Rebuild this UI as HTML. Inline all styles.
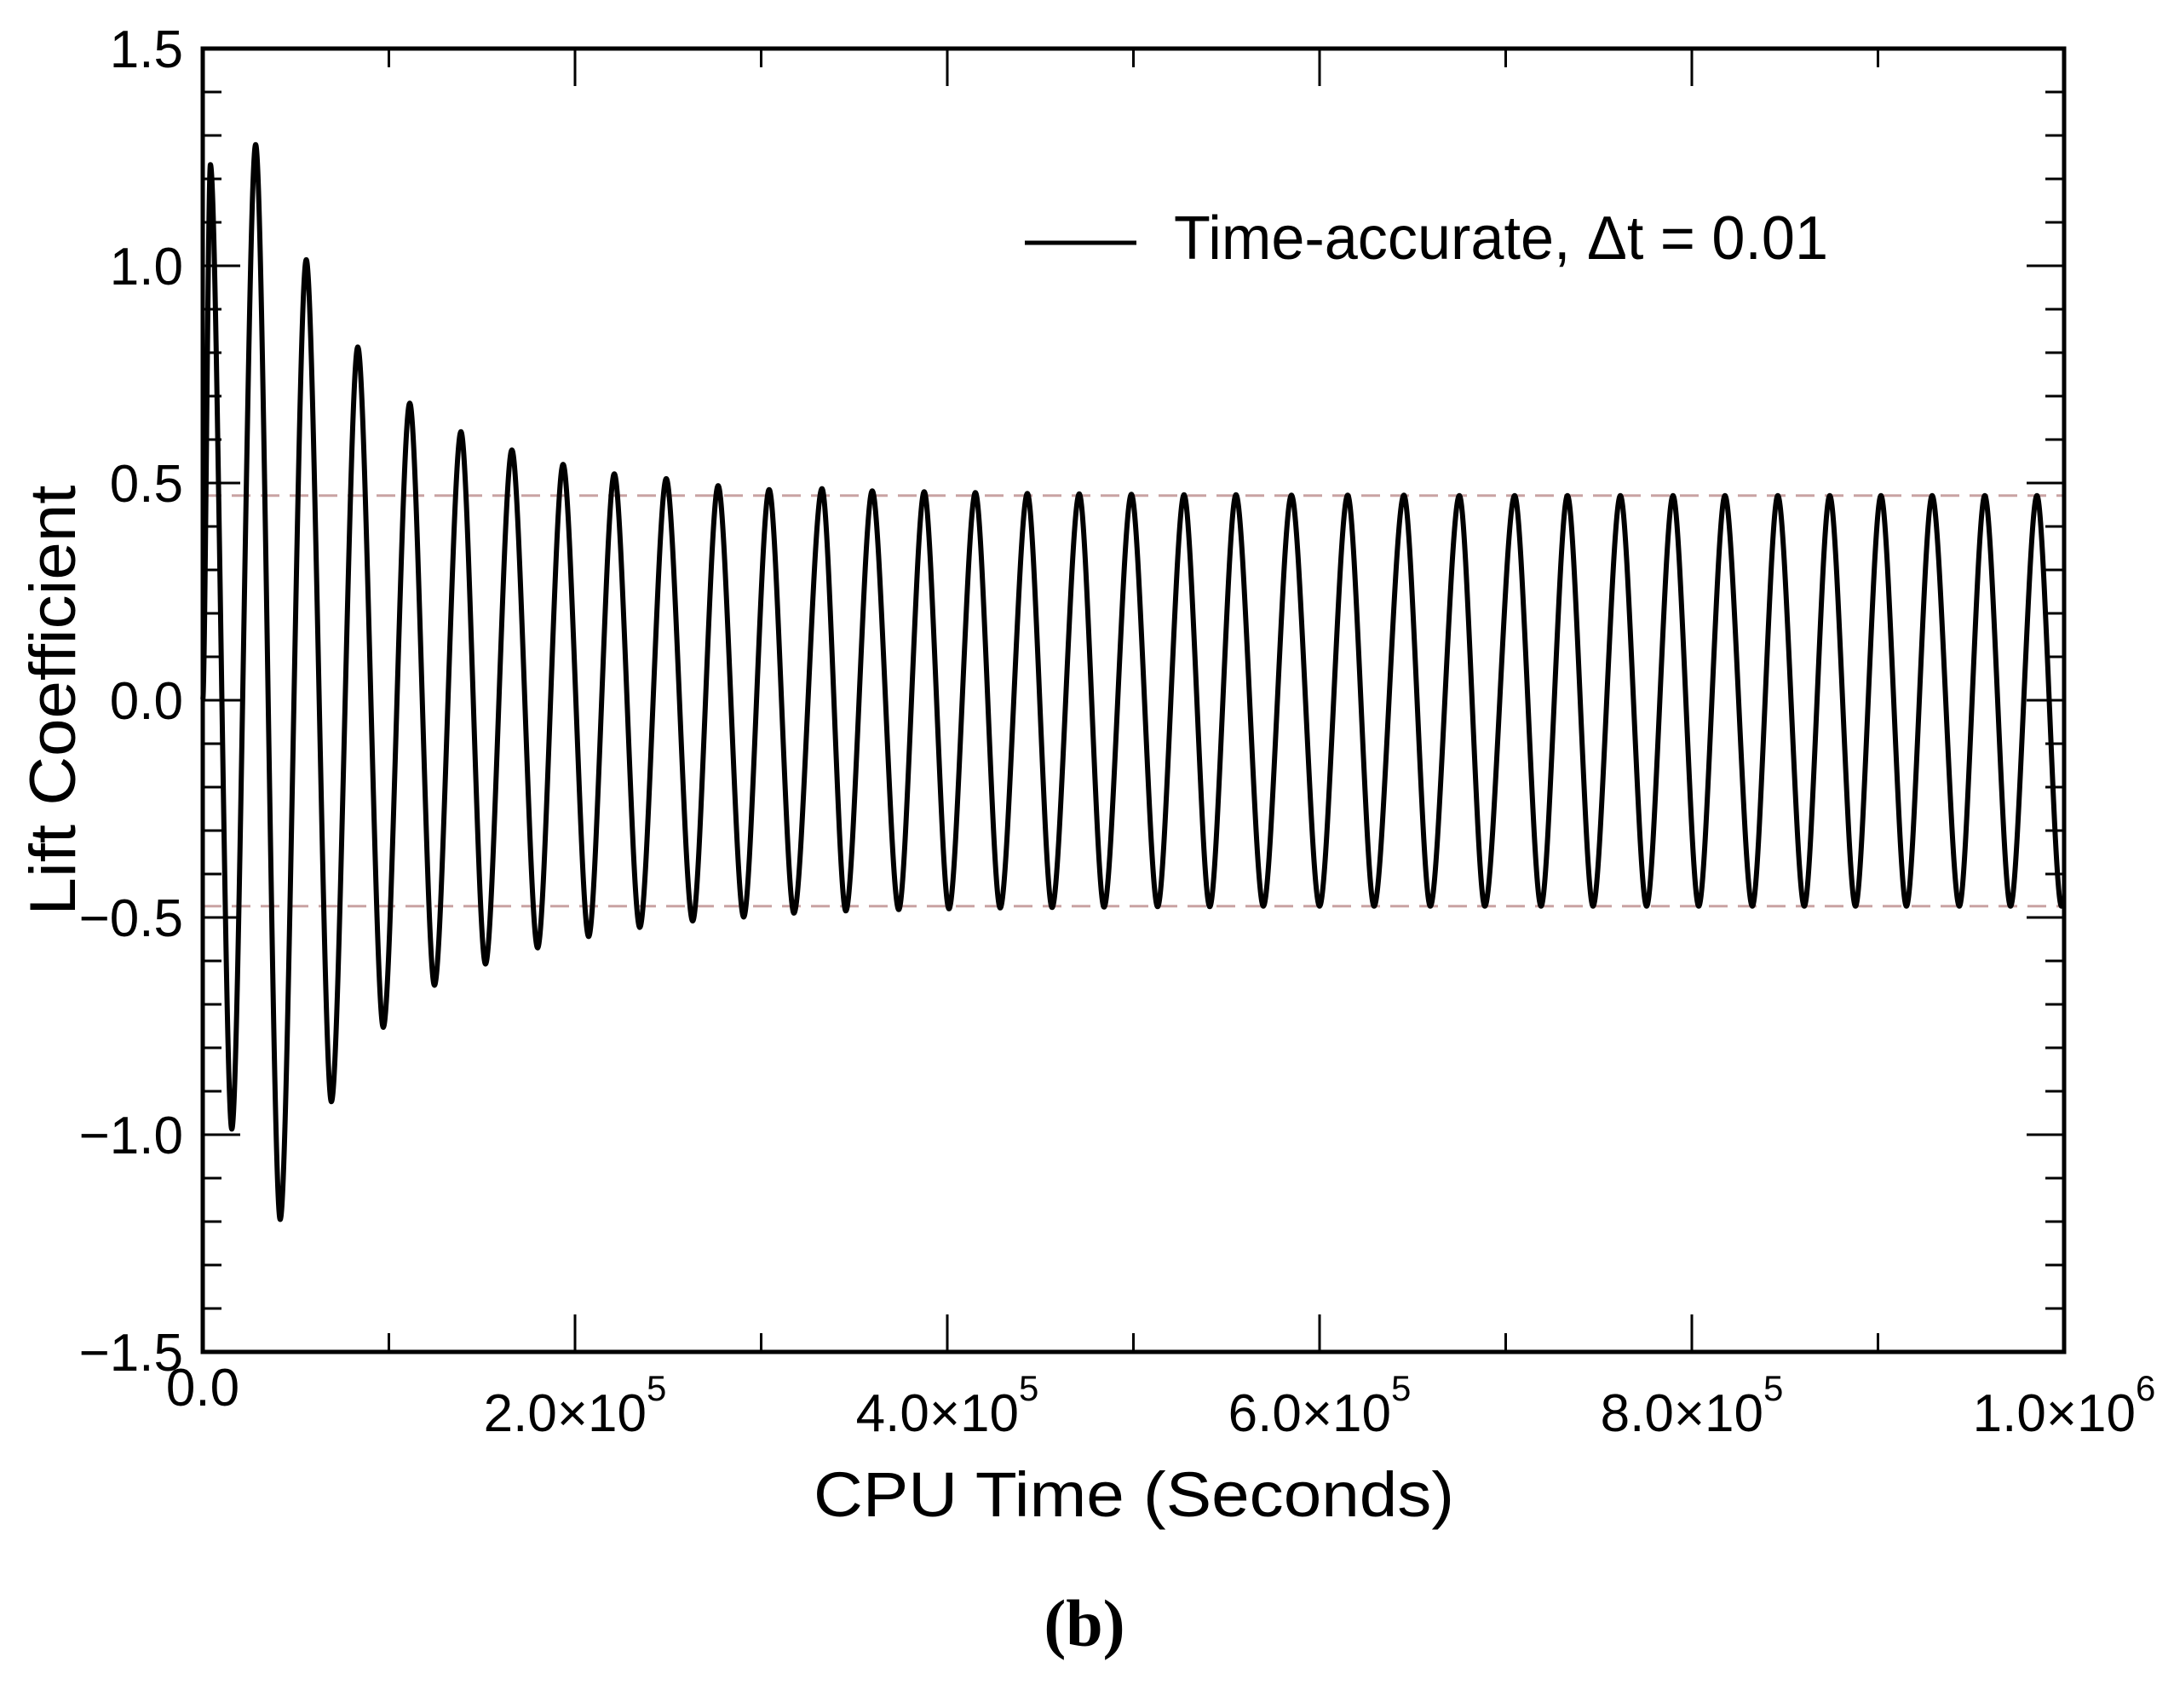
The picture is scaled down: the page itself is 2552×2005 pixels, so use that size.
<!DOCTYPE html>
<html><head><meta charset="utf-8"><style>
html,body{margin:0;padding:0;background:#fff;}
svg{display:block;}
text{font-family:"Liberation Sans",sans-serif;fill:#000;}
</style></head><body>
<svg id="chart" width="2552" height="2005" viewBox="0 0 2552 2005" xmlns="http://www.w3.org/2000/svg">
<rect x="0" y="0" width="2552" height="2005" fill="#fff"/>
<g id="grid-ref"></g>
<g id="series"></g>
<g id="axes"></g>
<g id="labels"></g>
<line x1="1203" y1="285" x2="1334" y2="285" stroke="#000" stroke-width="5"/>
<text x="1378" y="304" font-size="72" textLength="768" lengthAdjust="spacingAndGlyphs">Time-accurate, Δt = 0.01</text>
<text x="1331" y="1780" font-size="74" text-anchor="middle" textLength="752" lengthAdjust="spacingAndGlyphs">CPU Time (Seconds)</text>
<text transform="translate(88,822) rotate(-90)" font-size="76" text-anchor="middle" textLength="505" lengthAdjust="spacingAndGlyphs">Lift Coefficient</text>
<text x="1273" y="1932" font-size="78" font-weight="bold" text-anchor="middle" style="font-family:'Liberation Serif',serif">(b)</text>
</svg>
<script>
// extrema of the lift coefficient signal (time in thousands of seconds)
const extremaTimes = [0,4.1,15.6,28.4,41.6,55.6,69.1,83.3,97.0,111.2,124.5,138.7,151.9,166.1,179.9,193.6,207.3,221.1,234.8,249.0,263.2,276.9,290.6,304.3,317.6,332.7,345.5,359.7,373.9,387.6,400.9,415.1,428.4,443.0,456.3,470.9,484.2,498.9,513.0,527.2,541.0,555.1,569.8,584.9,600.0,615.1,629.3,645.3,659.5,675.1,688.8,704.8,719.0,733.2,746.9,761.6,775.7,789.9,803.7,817.8,832.5,846.2,860.4,874.1,887.9,901.6,915.3,929.1,943.7,957.4,971.2,985.4,998.6,1000];
const extremaValues = [0,1.233,-0.987,1.279,-1.195,1.014,-0.924,0.813,-0.753,0.684,-0.656,0.618,-0.607,0.576,-0.570,0.543,-0.544,0.521,-0.523,0.510,-0.508,0.494,-0.499,0.485,-0.490,0.487,-0.485,0.482,-0.482,0.480,-0.480,0.478,-0.478,0.476,-0.477,0.475,-0.476,0.474,-0.475,0.473,-0.475,0.473,-0.474,0.472,-0.474,0.472,-0.474,0.472,-0.474,0.471,-0.474,0.471,-0.474,0.471,-0.474,0.471,-0.474,0.471,-0.474,0.471,-0.474,0.471,-0.474,0.471,-0.474,0.471,-0.474,0.471,-0.474,0.471,-0.474,0.471,-0.474,-0.47];
const refLevels = [0.471,-0.474];
const yTickValues = [-1.5,-1.0,-0.5,0.0,0.5,1.0,1.5];
const yTickLabels = ["\u22121.5","\u22121.0","\u22120.5","0.0","0.5","1.0","1.5"];
const xTickValues = [0,200,400,600,800,1000];
const xTickMantissa = ["0.0","2.0\u00d710","4.0\u00d710","6.0\u00d710","8.0\u00d710","1.0\u00d710"];
const xTickExponent = ["","5","5","5","5","6"];

const L=238,R=2423,T=57,B=1587;
const xMin=0,xMax=1000,yMin=-1.5,yMax=1.5;
const sx=v=>L+(v-xMin)/(xMax-xMin)*(R-L);
const sy=v=>B-(v-yMin)/(yMax-yMin)*(B-T);
const NS="http://www.w3.org/2000/svg";
function mk(tag,attrs,parent){const e=document.createElementNS(NS,tag);for(const k in attrs)e.setAttribute(k,attrs[k]);parent.appendChild(e);return e;}

const gref=document.getElementById('grid-ref');
refLevels.forEach((v,i)=>{
  const ln=mk('line',{x1:L,x2:R,y1:sy(v),y2:sy(v),stroke:'#c9a3a3','stroke-width':3,'stroke-dasharray':'22 12'},gref);
  
  
});

const gs=document.getElementById('series');
let d='M'+sx(extremaTimes[0]).toFixed(1)+','+sy(extremaValues[0]).toFixed(1);
for(let i=1;i<extremaTimes.length;i++){
  const x0=sx(extremaTimes[i-1]),y0=sy(extremaValues[i-1]),x1=sx(extremaTimes[i]),y1=sy(extremaValues[i]);
  const dx=x1-x0,k=0.3;
  d+=' C'+(x0+k*dx).toFixed(1)+','+y0.toFixed(1)+' '+(x1-k*dx).toFixed(1)+','+y1.toFixed(1)+' '+x1.toFixed(1)+','+y1.toFixed(1);
}
const path=mk('path',{d:d,fill:'none',stroke:'#000','stroke-width':6,'stroke-linejoin':'round'},gs);



const ga=document.getElementById('axes');
const frame=mk('rect',{x:L,y:T,width:R-L,height:B-T,fill:'none',stroke:'#000','stroke-width':5},ga);


for(let v=-1.5;v<=1.5001;v+=0.1){
  const major=Math.abs(v*2-Math.round(v*2))<1e-6;
  const len=major?44:22, y=sy(v);
  mk('line',{x1:L,x2:L+len,y1:y,y2:y,stroke:'#000','stroke-width':3},ga);
  mk('line',{x1:R,x2:R-len,y1:y,y2:y,stroke:'#000','stroke-width':3},ga);
}
for(let v=0;v<=1000.01;v+=100){
  const major=Math.round(v)%200===0;
  const len=major?44:22, x=sx(v);
  mk('line',{x1:x,x2:x,y1:B,y2:B-len,stroke:'#000','stroke-width':3},ga);
  mk('line',{x1:x,x2:x,y1:T,y2:T+len,stroke:'#000','stroke-width':3},ga);
}

const gl=document.getElementById('labels');
yTickValues.forEach((v,i)=>{
  const t=mk('text',{x:215,y:sy(v)+22,'font-size':62,'text-anchor':'end'},gl);
  t.textContent=yTickLabels[i];
  
  
});
xTickValues.forEach((v,i)=>{
  const x=sx(v);
  const t=mk('text',{x:x,y:i===0?1650:1680,'font-size':62,'text-anchor':'middle'},gl);
  t.textContent=xTickMantissa[i];
  if(xTickExponent[i]){
    const s=document.createElementNS(NS,'tspan');
    s.setAttribute('dy','-36');s.setAttribute('font-size','42');
    s.textContent=xTickExponent[i];t.appendChild(s);
  }
  
  
});
</script>
</body></html>
